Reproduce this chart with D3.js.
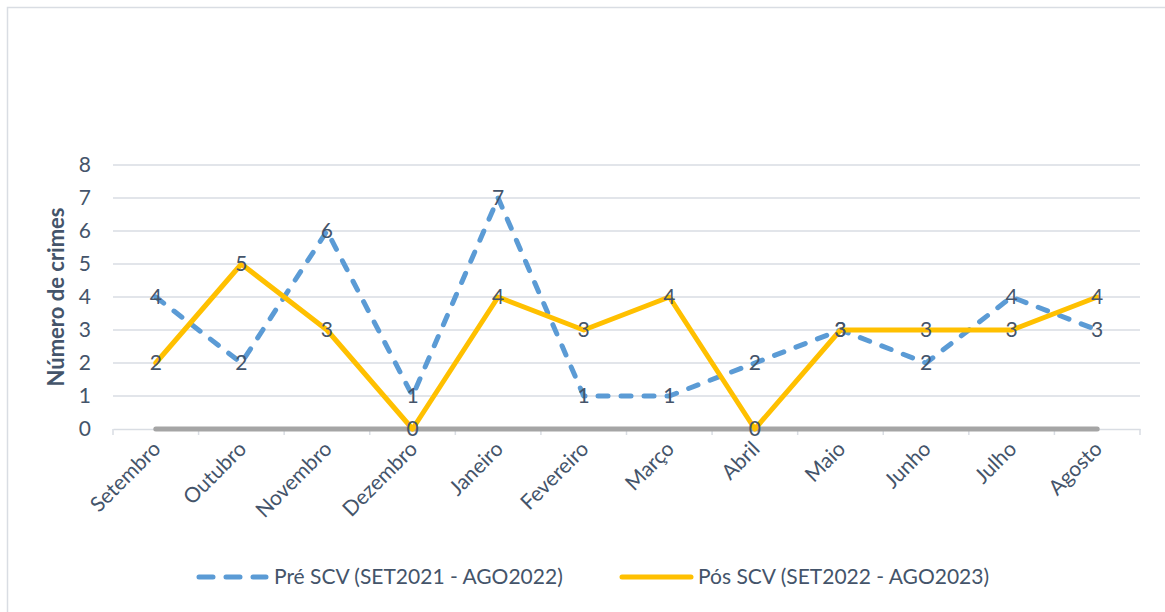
<!DOCTYPE html>
<html><head><meta charset="utf-8">
<script src="https://cdn.jsdelivr.net/npm/d3@7"></script>
<style>body{margin:0;background:#fff}svg{display:block}text{font-family:Lato,"Open Sans",sans-serif}</style>
</head><body><svg id="c" width="1165" height="612"></svg>
<script>
const months = ["Setembro","Outubro","Novembro","Dezembro","Janeiro","Fevereiro","Março","Abril","Maio","Junho","Julho","Agosto"];
const preSCV = [4,2,6,1,7,1,1,2,3,2,4,3];
const posSCV = [2,5,3,0,4,3,4,0,3,3,3,4];
const baseline = [0,0,0,0,0,0,0,0,0,0,0,0];
const yTicks = [0,1,2,3,4,5,6,7,8];
const seriesNames = ["Pré SCV (SET2021 - AGO2022)","Pós SCV (SET2022 - AGO2023)"];

(function(){
const svg = d3.select("#c");
const textColor = "#44546a";
const fs = 21;
svg.append("rect").attr("x",7.5).attr("y",7.5).attr("width",1200).attr("height",700)
  .attr("fill","#fff").attr("stroke","#d9dde3").attr("stroke-width",1.5);

const pL=113, pR=1140, pT=165, pB=429;
const x = d3.scaleBand().domain(months).range([pL,pR]);
const y = d3.scaleLinear().domain([0,8]).range([pB,pT]);
const cx = m => x(m)+x.bandwidth()/2;

svg.append("g").selectAll("line").data(yTicks.filter(d=>d>0)).join("line")
  .attr("x1",pL).attr("x2",pR).attr("y1",d=>y(d)).attr("y2",d=>y(d))
  .attr("stroke","#d9dde3").attr("stroke-width",1.5);

const yAxis = d3.axisLeft(y).tickValues(yTicks).tickSize(0).tickPadding(0);
const gy = svg.append("g").attr("transform",`translate(${pL-22},0)`).call(yAxis);
gy.select(".domain").remove();
gy.selectAll("text").attr("font-size",fs).attr("fill",textColor).attr("font-family","Lato");

const xAxis = d3.axisBottom(x).tickSize(0).tickFormat("");
const gx = svg.append("g").attr("transform",`translate(0,${pB})`).call(xAxis);
gx.select(".domain").attr("stroke","#d9dde3").attr("stroke-width",1.5);
const bounds = months.map(m=>x(m)).concat([pR]);
svg.append("g").selectAll("line").data(bounds).join("line")
  .attr("x1",d=>d).attr("x2",d=>d).attr("y1",pB).attr("y2",pB+6)
  .attr("stroke","#d9dde3").attr("stroke-width",1.5);
svg.append("g").selectAll("text").data(months).join("text")
  .attr("transform",m=>`translate(${cx(m)+1},${pB+16}) rotate(-45)`)
  .attr("text-anchor","end").attr("dy","0.35em")
  .attr("font-size",fs).attr("fill",textColor).text(m=>m);

svg.append("text").attr("transform",`translate(64,${(pT+pB)/2}) rotate(-90)`)
  .attr("text-anchor","middle").attr("font-size",22).attr("font-weight","bold")
  .attr("fill",textColor).text("Número de crimes");

const line = d3.line().x((d,i)=>cx(months[i])).y(d=>y(d));

svg.append("path").datum(baseline).attr("d",line).attr("fill","none")
  .attr("stroke","#a5a5a5").attr("stroke-width",5).attr("stroke-linecap","round");
svg.append("path").datum(preSCV).attr("d",line).attr("fill","none")
  .attr("stroke","#5b9bd5").attr("stroke-width",5).attr("stroke-linecap","round")
  .attr("stroke-dasharray","10,13").attr("stroke-linejoin","round");
svg.append("path").datum(posSCV).attr("d",line).attr("fill","none")
  .attr("stroke","#ffc000").attr("stroke-width",5).attr("stroke-linecap","round")
  .attr("stroke-linejoin","round");

[preSCV,posSCV].forEach(s=>{
  svg.append("g").selectAll("text").data(s).join("text")
    .attr("x",(d,i)=>cx(months[i])).attr("y",d=>y(d)).attr("dy","0.35em")
    .attr("text-anchor","middle").attr("font-size",fs).attr("fill",textColor)
    .text(d=>d);
});

const lg = svg.append("g");
lg.append("line").attr("x1",199).attr("x2",266).attr("y1",577).attr("y2",577)
  .attr("stroke","#5b9bd5").attr("stroke-width",5).attr("stroke-linecap","round")
  .attr("stroke-dasharray","14,13");
lg.append("text").attr("x",274).attr("y",577).attr("dy","0.35em").attr("font-size",fs)
  .attr("fill",textColor).text(seriesNames[0]);
lg.append("line").attr("x1",622).attr("x2",691).attr("y1",577).attr("y2",577)
  .attr("stroke","#ffc000").attr("stroke-width",5).attr("stroke-linecap","round");
lg.append("text").attr("x",698).attr("y",577).attr("dy","0.35em").attr("font-size",fs)
  .attr("fill",textColor).text(seriesNames[1]);
})();
</script></body></html>
